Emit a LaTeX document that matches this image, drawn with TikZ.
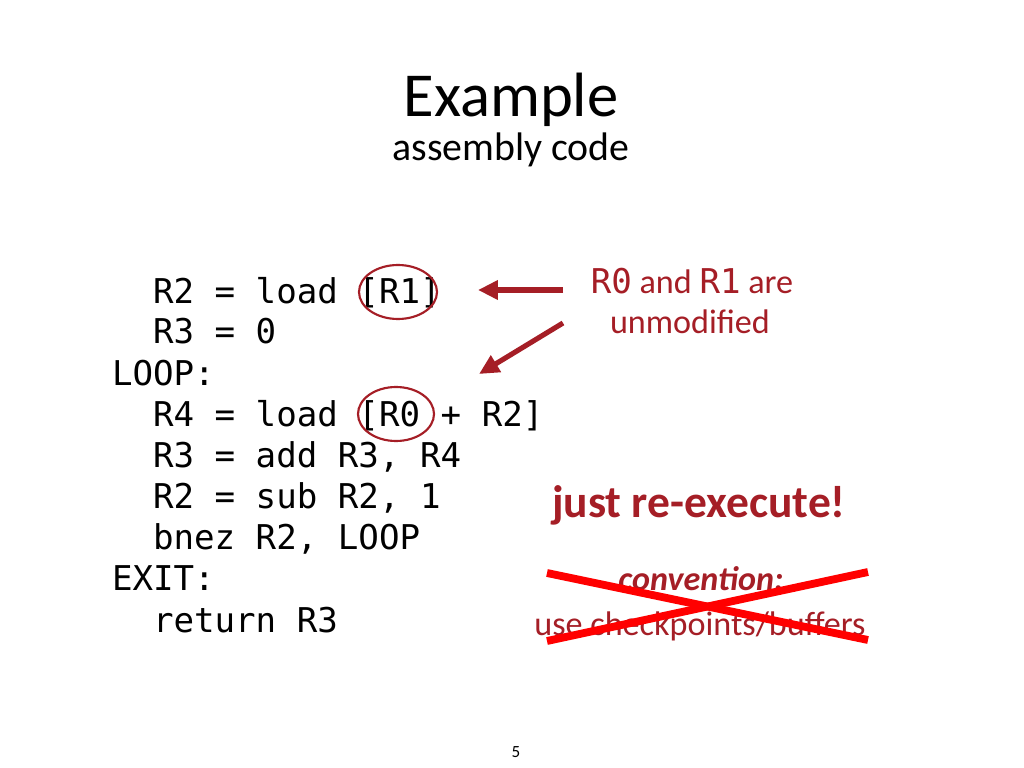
\documentclass[tikz,border=0pt]{standalone}
\usepackage{fontspec}
\setmainfont{Carlito}
\newfontfamily\codefont{DejaVu Sans Mono}
\usetikzlibrary{arrows.meta}
\definecolor{darkred}{RGB}{165,30,38}
\definecolor{crossred}{RGB}{255,0,0}
\begin{document}
\begin{tikzpicture}[x=0.703125pt,y=-0.703125pt,
  txt/.style={inner sep=0pt,outer sep=0pt,anchor=base},
  code/.style={inner sep=0pt,outer sep=0pt,anchor=base west,font=\codefont\fontsize{24}{28}\selectfont},
  note/.style={txt,text=darkred,font=\fontsize{24}{28}\selectfont},
  ring/.style={draw=darkred,line width=1.5pt},
  pointer/.style={draw=darkred,line width=3.6pt,-{Triangle[length=14pt,width=13pt]}},
  strike/.style={draw=crossred,line width=5.5pt}]
\useasboundingbox (0,0) rectangle (1024,768);
\fill[white] (0,0) rectangle (1024,768);
% title
\node[txt,font=\fontsize{44}{52}\selectfont] (title) at (511,117) {Example};
\node[txt,font=\fontsize{28}{34}\selectfont] (subtitle) at (511,161) {assembly code};
% code
\node[code] (c1) at (153,303) {R2 = load [R1]};
\node[code] (c2) at (153,344) {R3 = 0};
\node[code] (c3) at (112,385) {LOOP:};
\node[code] (c4) at (153,426) {R4 = load [R0 + R2]};
\node[code] (c5) at (153,467) {R3 = add R3, R4};
\node[code] (c6) at (153,508) {R2 = sub R2, 1};
\node[code] (c7) at (153,549) {bnez R2, LOOP};
\node[code] (c8) at (112,590) {EXIT:};
\node[code] (c9) at (153,632) {return R3};
% circles
\draw[ring] (398,292) ellipse [x radius=39,y radius=27];
\draw[ring] (396,414) ellipse [x radius=38,y radius=27];
% annotation
\node[note] (n1) at (692,293) {{\codefont R0} and {\codefont R1} are};
\node[note] (n2) at (690,333) {unmodified};
\coordinate (a1s) at (563,290);
\coordinate (a1e) at (478,290);
\coordinate (a2s) at (563,323);
\coordinate (a2e) at (479,374);
\draw[pointer] (a1s) -- (a1e);
\draw[pointer] (a2s) -- (a2e);
\node[txt,text=darkred,font=\bfseries\fontsize{32}{38}\selectfont] (je) at (699,517) {just re-execute!};
\node[txt,text=darkred,font=\bfseries\itshape\fontsize{24}{28}\selectfont] (conv) at (701,590) {convention:};
\node[note] (cb) at (700,635) {use checkpoints/buffers};
\coordinate (x1) at (547,573);
\coordinate (x2) at (868,640);
\coordinate (x3) at (547,641);
\coordinate (x4) at (868,572);
\draw[strike] (x1) -- (x2);
\draw[strike] (x3) -- (x4);
% page number
\node[txt,font=\fontsize{12}{14}\selectfont] (pg) at (516,757) {5};
\end{tikzpicture}
\end{document}
